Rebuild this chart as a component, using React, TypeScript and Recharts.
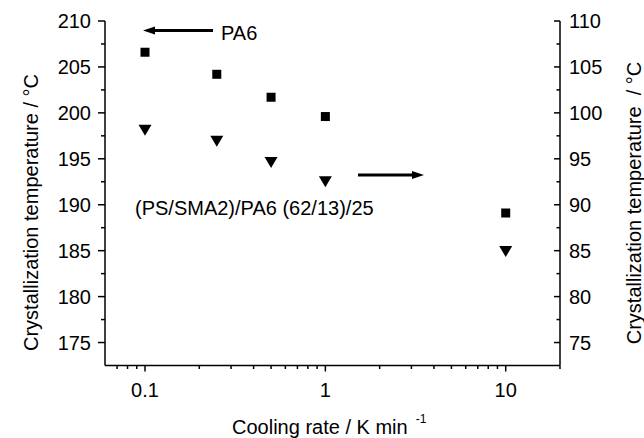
import { ScatterChart, XAxis, YAxis, Scatter, Customized } from 'recharts';

// cooling rates (K/min) and crystallization temperatures
const rates = [0.1, 0.25, 0.5, 1, 10];
const pa6Temps = [206.6, 204.2, 201.7, 199.6, 189.1]; // left axis
const blendTemps = [98.1, 96.9, 94.6, 92.5, 84.9]; // right axis

const xMajor = [0.1, 1, 10];
const xTicks = [0.07, 0.08, 0.09, 0.1, 0.2, 0.3, 0.4, 0.5, 0.6, 0.7, 0.8, 0.9, 1, 2, 3, 4, 5, 6, 7, 8, 9, 10, 20];
const leftTicks = [175, 177.5, 180, 182.5, 185, 187.5, 190, 192.5, 195, 197.5, 200, 202.5, 205, 207.5, 210];
const rightTicks = [75, 77.5, 80, 82.5, 85, 87.5, 90, 92.5, 95, 97.5, 100, 102.5, 105, 107.5, 110];

const pa6Data = rates.map((r, i) => ({ rate: r, t: pa6Temps[i] }));
const blendData = rates.map((r, i) => ({ rate: r, t: blendTemps[i] }));

const FONT = 'Liberation Sans, Arial, Helvetica, sans-serif';
const FS = 20;

const XTick = (props: any) => {
  const { x, y, payload } = props;
  const major = xMajor.includes(payload.value);
  return (
    <g>
      <line x1={x} y1={y} x2={x} y2={y + (major ? 6 : 3.5)} stroke="#000" strokeWidth={1.5} />
      {major && (
        <text x={x} y={y + 31.5} textAnchor="middle" fontSize={FS} fontFamily={FONT} fill="#000">
          {payload.value}
        </text>
      )}
    </g>
  );
};

const LeftTick = (props: any) => {
  const { x, y, payload } = props;
  const major = payload.value % 5 === 0;
  return (
    <g>
      <line x1={x} y1={y} x2={x - (major ? 7 : 4)} y2={y} stroke="#000" strokeWidth={1.5} />
      {major && (
        <text x={x - 14} y={y} dy="0.35em" textAnchor="end" fontSize={FS} fontFamily={FONT} fill="#000">
          {payload.value}
        </text>
      )}
    </g>
  );
};

const RightTick = (props: any) => {
  const { x, y, payload } = props;
  const major = payload.value % 5 === 0;
  return (
    <g>
      <line x1={x} y1={y} x2={x - (major ? 6 : 3.5)} y2={y} stroke="#000" strokeWidth={1.5} />
      {major && (
        <text x={x + 9} y={y} dy="0.35em" textAnchor="start" fontSize={FS} fontFamily={FONT} fill="#000">
          {payload.value}
        </text>
      )}
    </g>
  );
};

const Square = (props: any) => {
  const { cx, cy } = props;
  return <rect x={cx - 4.5} y={cy - 4.5} width={9} height={9} fill="#000" />;
};

const Triangle = (props: any) => {
  const { cx, cy } = props;
  return <polygon points={`${cx - 6.5},${cy - 5.5} ${cx + 6.5},${cy - 5.5} ${cx},${cy + 5.5}`} fill="#000" />;
};

const Annotations = () => (
  <g fontFamily={FONT} fill="#000">
    {/* PA6 arrow (left axis) */}
    <line x1={213} y1={30.5} x2={152} y2={30.5} stroke="#000" strokeWidth={3} />
    <polygon points="143,30.5 155,26.5 155,34.5" fill="#000" />
    <text x={221} y={39.5} fontSize={FS}>PA6</text>
    {/* blend arrow (right axis) */}
    <text x={135} y={215} fontSize={FS}>(PS/SMA2)/PA6 (62/13)/25</text>
    <line x1={358} y1={175} x2={414} y2={175} stroke="#000" strokeWidth={3} />
    <polygon points="424,175 412,171 412,179" fill="#000" />
    {/* axis titles */}
    <text x={38} y={212.5} transform="rotate(-90 38 212.5)" textAnchor="middle" fontSize={FS}>
      Crystallization temperature / °C
    </text>
    <text x={641} y={203} transform="rotate(-90 641 203)" textAnchor="middle" fontSize={FS} style={{ whiteSpace: 'pre' }}>
      {'Crystallization temperature  / °C'}
    </text>
    <text x={232} y={434} fontSize={FS}>
      Cooling rate / K min
      <tspan dx={8} dy={-11} fontSize={12}>-1</tspan>
    </text>
  </g>
);

export default function App() {
  return (
    <div style={{ position: 'absolute', left: 0, top: 0, background: '#fff' }}>
      <ScatterChart width={644} height={438} margin={{ top: 21, right: 0, bottom: 0, left: 0 }}>
        <XAxis
          dataKey="rate"
          type="number"
          scale="log"
          domain={[0.06, 20]}
          allowDataOverflow
          ticks={xTicks}
          interval={0}
          height={72.5}
          tickSize={0}
          tickMargin={0}
          tick={XTick}
          axisLine={{ stroke: '#000', strokeWidth: 1.5 }}
          tickLine={false}
        />
        <YAxis
          yAxisId="left"
          dataKey="t"
          type="number"
          domain={[172.5, 210]}
          allowDataOverflow
          ticks={leftTicks}
          interval={0}
          width={105}
          tickSize={0}
          tickMargin={0}
          tick={LeftTick}
          axisLine={{ stroke: '#000', strokeWidth: 1.5 }}
          tickLine={false}
        />
        <YAxis
          yAxisId="right"
          orientation="right"
          dataKey="t"
          type="number"
          domain={[72.5, 110]}
          allowDataOverflow
          ticks={rightTicks}
          interval={0}
          width={84}
          tickSize={0}
          tickMargin={0}
          tick={RightTick}
          axisLine={{ stroke: '#000', strokeWidth: 1.5 }}
          tickLine={false}
        />
        <Scatter yAxisId="left" data={pa6Data} shape={Square} isAnimationActive={false} />
        <Scatter yAxisId="right" data={blendData} shape={Triangle} isAnimationActive={false} />
        <Customized component={Annotations} />
      </ScatterChart>
    </div>
  );
}
